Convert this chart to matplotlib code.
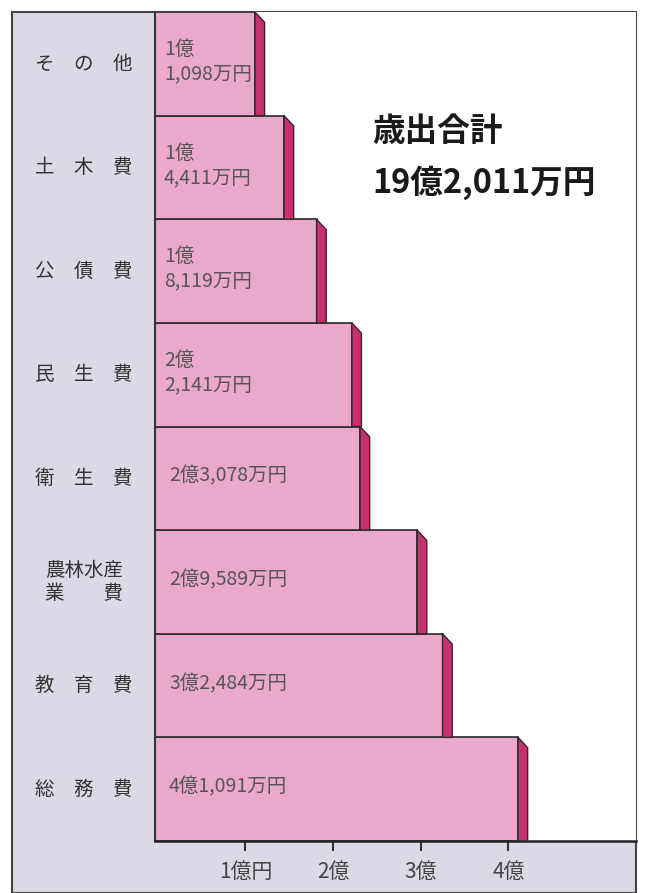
import matplotlib
matplotlib.use("Agg")
import matplotlib.pyplot as plt
from matplotlib.patches import Rectangle, Polygon

plt.rcParams['font.family'] = ['Noto Sans CJK JP', 'DejaVu Sans']

# データ（下から上の順、単位: 億円）
categories = ['総　務　費', '教　育　費', '農林水産\n業　　費', '衛　生　費',
              '民　生　費', '公　債　費', '土　木　費', 'そ　の　他']
values = [4.1091, 3.2484, 2.9589, 2.3078, 2.2141, 1.8119, 1.4411, 1.1098]
value_labels = ['4億1,091万円', '3億2,484万円', '2億9,589万円', '2億3,078万円',
                '2億\n2,141万円', '1億\n8,119万円', '1億\n4,411万円', '1億\n1,098万円']
tick_pos = [1, 2, 3, 4]
tick_labels = ['1億円', '2億', '3億', '4億']
title_lines = ['歳出合計', '19億2,011万円']

W, H = 645, 893
face = '#eaa9cb'
side = '#c8306e'
lav = '#dcd9e6'
edge = '#2a2a2a'

fig = plt.figure(figsize=(W / 100, H / 100), dpi=100)
fig.patch.set_facecolor('white')

# 外枠と薄紫の背景
x0, x1, ytop = 12, 636, 12
fig.patches.append(Rectangle((x0 / W, 0), (x1 - x0) / W, (H - ytop) / H,
                             transform=fig.transFigure, facecolor=lav,
                             edgecolor='#444444', linewidth=1.5, zorder=-5))

ax = fig.add_axes([155 / W, (H - 841) / H, (x1 - 155) / W, (841 - ytop) / H])
ax.set_zorder(1)
ax.set_facecolor('white')
ax.set_xlim(-0.03, (x1 - 155) / 87.7 - 0.03)
ax.set_ylim(-0.5, len(values) - 0.5)

d = 0.11   # 側面の奥行き
dy = 0.10
for i, v in enumerate(values):
    ax.barh(i, v + 0.03, height=1.0, left=-0.03, color=face, edgecolor=edge,
            linewidth=1.2, zorder=2)
    ax.add_patch(Polygon([(v, i - 0.5), (v, i + 0.5),
                          (v + d, i + 0.5 - dy), (v + d, i - 0.5)],
                         closed=True, facecolor=side, edgecolor=edge,
                         linewidth=1.0, zorder=3))
    two = '\n' in value_labels[i]
    ax.text(0.07 if two else 0.13, i + 0.02, value_labels[i], ha='left', va='center',
            fontsize=14, color='#555555', linespacing=1.2, zorder=4)
    ax.text(-0.148, i, categories[i], transform=ax.get_yaxis_transform(),
            ha='center', va='center', fontsize=14, color='#333333',
            linespacing=1.1, clip_on=False)

ax.set_xticks(tick_pos)
ax.set_xticklabels(tick_labels, fontsize=15, color='#444444')
ax.tick_params(axis='x', direction='out', length=7, width=1.5, color='#333333', pad=7)
ax.set_yticks([])
for s in ['top', 'right']:
    ax.spines[s].set_visible(False)
ax.spines['left'].set_linewidth(1.5)
ax.spines['bottom'].set_linewidth(1.8)
ax.spines['left'].set_color('#333333')
ax.spines['bottom'].set_color('#222222')

fig.text(372 / W, 1 - 131 / H, title_lines[0], ha='left', va='center',
         fontsize=23.5, fontweight='bold', color='#1a1a1a', zorder=5)
fig.text(372 / W, 1 - 183 / H, title_lines[1], ha='left', va='center',
         fontsize=23.5, fontweight='bold', color='#1a1a1a', zorder=5)

fig.savefig('out.png', dpi=100, facecolor=fig.get_facecolor())
